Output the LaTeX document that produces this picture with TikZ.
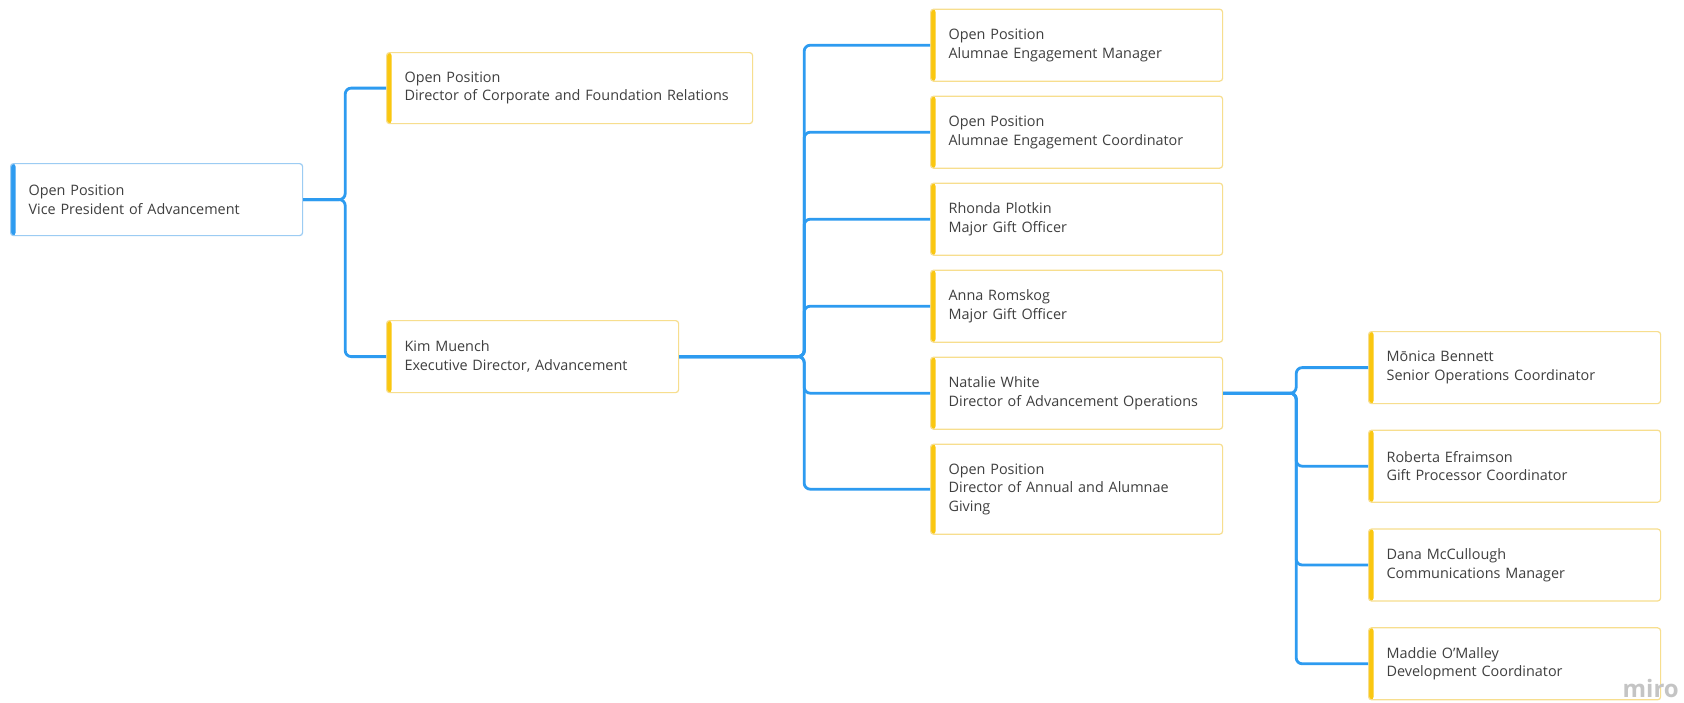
\documentclass[tikz,border=0pt]{standalone}
\usepackage{fontspec}
\setmainfont{Open Sans}
\definecolor{lineblue}{HTML}{2D9BF0}
\definecolor{bordblue}{HTML}{9CCCF3}
\definecolor{baryel}{HTML}{FAC710}
\definecolor{bordyel}{HTML}{F7DE8E}
\definecolor{txt}{HTML}{3F3F3F}
\definecolor{wm}{HTML}{C4C4C4}
\begin{document}
\begin{tikzpicture}[x=1pt,y=-1pt,
  card/.style={draw=bordyel, line width=1.2pt, fill=white, rounded corners=3pt,
    anchor=north west, minimum height=72pt, inner xsep=18pt, inner ysep=0pt,
    text width=#1, align=left, text=txt,
    font=\fontsize{14.4}{18.5}\selectfont,
    path picture={\fill[baryel] (path picture bounding box.south west) rectangle ([xshift=5pt]path picture bounding box.north west);}},
  card/.default=256pt,
  bluecard/.style={card, draw=bordblue,
    path picture={\fill[lineblue] (path picture bounding box.south west) rectangle ([xshift=5pt]path picture bounding box.north west);}},
  conn/.style={draw=lineblue, line width=2.8pt, rounded corners=6pt}]
\useasboundingbox (0,0) rectangle (1684,702);
\fill[white] (0,0) rectangle (1684,702);

\node[bluecard] (vp) at (10,163) {Open Position\\Vice President of Advancement};
\node[card=330pt, minimum height=71pt] (dcfr) at (386,52) {Open Position\\Director of Corporate and Foundation Relations};
\node[card] (kim) at (386,320) {Kim Muench\\Executive Director, Advancement};

\node[card] (aem) at (930,8.6) {Open Position\\Alumnae Engagement Manager};
\node[card] (aec) at (930,95.6) {Open Position\\Alumnae Engagement Coordinator};
\node[card] (rp) at (930,182.6) {Rhonda Plotkin\\Major Gift Officer};
\node[card] (ar) at (930,269.6) {Anna Romskog\\Major Gift Officer};
\node[card] (nw) at (930,356.6) {Natalie White\\Director of Advancement Operations};
\node[card, minimum height=90pt] (daag) at (930,443.6) {Open Position\\Director of Annual and Alumnae\\Giving};

\node[card] (mb) at (1368,331) {Mōnica Bennett\\Senior Operations Coordinator};
\node[card] (re) at (1368,429.6) {Roberta Efraimson\\Gift Processor Coordinator};
\node[card] (dm) at (1368,528.4) {Dana McCullough\\Communications Manager};
\node[card] (mo) at (1368,627.2) {Maddie O’Malley\\Development Coordinator};

\node[anchor=base east, inner sep=0pt, text=wm, font=\fontsize{24}{24}\selectfont\bfseries] (miro) at (1679,697) {miro};

\foreach \c in {dcfr,kim} \draw[conn] (vp.east) -- ++(42,0) |- (\c.west);
\foreach \c in {aem,aec,rp,ar,nw,daag} \draw[conn] (kim.east) -- ++(125,0) |- (\c.west);
\foreach \c in {mb,re,dm,mo} \draw[conn] (nw.east) -- ++(73,0) |- (\c.west);
\end{tikzpicture}
\end{document}
